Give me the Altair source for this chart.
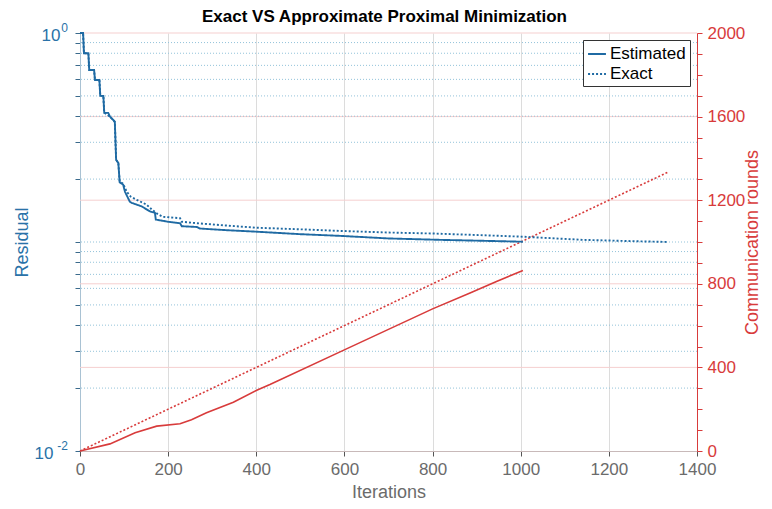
import altair as alt
import pandas as pd

# ---------------- data ----------------
# Residual, "Estimated" (solid blue)
est_iter = [0, 7, 9, 19, 21, 32, 34, 44, 46, 53,
            55, 64, 68, 79, 82, 87, 90, 98, 102, 113,
            117, 140, 159, 170, 172, 200, 227, 231, 265, 272,
            330, 401, 500, 590, 700, 817, 900, 1005]
est_res = [1.0, 1.0, 0.80, 0.80, 0.665, 0.665, 0.596, 0.596, 0.50, 0.50,
           0.415, 0.415, 0.398, 0.377, 0.247, 0.239, 0.193, 0.188, 0.174, 0.156,
           0.154, 0.148, 0.140, 0.138, 0.128, 0.125, 0.123, 0.119, 0.118, 0.116,
           0.114, 0.112, 0.109, 0.107, 0.104, 0.1024, 0.1015, 0.1003]

# Residual, "Exact" (dotted blue)
ex_iter = [0, 7, 9, 19, 21, 32, 34, 44, 46, 53,
           55, 60, 72, 79, 82, 87, 90, 98, 106, 115,
           129, 151, 163, 174, 188, 227, 231, 265, 330, 401,
           500, 590, 700, 801, 900, 1005, 1141, 1250, 1335]
ex_res = [1.0, 1.0, 0.80, 0.80, 0.665, 0.665, 0.596, 0.596, 0.50, 0.50,
          0.415, 0.41, 0.39, 0.375, 0.247, 0.239, 0.195, 0.19, 0.174, 0.165,
          0.159, 0.151, 0.143, 0.137, 0.132, 0.130, 0.125, 0.123, 0.120, 0.117,
          0.115, 0.113, 0.111, 0.1098, 0.108, 0.106, 0.1024, 0.101, 0.100]

# Communication rounds, estimated (solid red)
ce_iter = [0, 68, 125, 174, 227, 253, 287, 348, 401, 431, 601, 800, 885, 945, 1005]
ce_val = [0, 34, 87, 119, 130, 150, 183, 233, 291, 318, 485, 680, 756, 811, 864]

# Communication rounds, exact (dotted red)
cx_iter = [0, 1335]
cx_val = [0, 1335]

series_names = ["Estimated", "Exact"]
title_text = ["Exact VS Approximate Proximal Minimization"]

# axis ticks / labels
x_ticks = [0, 200, 400, 600, 800, 1000, 1200, 1400]
log_ticks = [0.01, 0.02, 0.03, 0.04, 0.05, 0.06, 0.07, 0.08, 0.09,
             0.1, 0.2, 0.3, 0.4, 0.5, 0.6, 0.7, 0.8, 0.9, 1.0]
log_minor_grid = [0.02, 0.03, 0.04, 0.05, 0.06, 0.07, 0.08, 0.09,
                  0.1, 0.2, 0.3, 0.4, 0.5, 0.6, 0.7, 0.8, 0.9]
ylab_vals = [1.0, 0.01]
ylab_base = ["10", "10"]
ylab_exp = ["0", "-2"]
right_ticks = [0, 100, 200, 300, 400, 500, 600, 700, 800, 900, 1000,
               1100, 1200, 1300, 1400, 1500, 1600, 1700, 1800, 1900, 2000]
right_grid = [400, 800, 1200, 1600, 2000]

# ---------------- styling ----------------
FONT = "Liberation Sans"
BLUE = "#1f6aa3"
BLUE_TXT = "#2a72a8"
RED = "#d83b3b"
GRAY = "#6b6b6b"
W, H = 617, 418

df_res = pd.concat([
    pd.DataFrame({"it": est_iter, "res": est_res, "method": series_names[0]}),
    pd.DataFrame({"it": ex_iter, "res": ex_res, "method": series_names[1]}),
])
df_ce = pd.DataFrame({"it": ce_iter, "comm": ce_val})
df_cx = pd.DataFrame({"it": cx_iter, "comm": cx_val})

xscale = alt.Scale(domain=[0, 1400], nice=False, zero=False)
ylog = alt.Scale(type="log", domain=[0.01, 1], nice=False)
ylin = alt.Scale(domain=[0, 2000], nice=False, zero=True)

x_axis = alt.Axis(values=x_ticks, format="d", title="Iterations", grid=True,
                  gridColor="#dcdcdc", gridWidth=1, domainColor="#c8b9b9",
                  tickColor="#555555", tickSize=5, labelColor=GRAY, labelFontSize=17,
                  labelFont=FONT, labelFlush=False, labelPadding=5, titleColor=GRAY,
                  titleFontSize=18, titleFont=FONT, titleFontWeight="normal",
                  titlePadding=6)
x_enc = alt.X("it:Q", scale=xscale, axis=x_axis)

left_axis = alt.Axis(orient="left", values=log_ticks, labels=False, tickSize=5,
                     tickColor="#3a6a8c", domainColor="#a9c2d3", grid=False,
                     title="Residual", titleColor=BLUE_TXT, titleFontSize=18, titleFont=FONT,
                     titleFontWeight="normal", titlePadding=43)

right_axis = alt.Axis(orient="right", values=right_ticks,
                      labelExpr="datum.value % 400 === 0 ? format(datum.value, 'd') : ''",
                      tickSize=5, tickColor=RED, domainColor=RED, labelColor=RED,
                      labelFontSize=17, labelFont=FONT, labelPadding=5, grid=False,
                      title="Communication rounds", titleColor=RED, titleFontSize=18,
                      titleFont=FONT, titleFontWeight="normal", titleAngle=270,
                      titlePadding=17)

pink_rules = alt.Chart(pd.DataFrame({"g": right_grid})).mark_rule(
    color="#f5cfcf", strokeWidth=1).encode(y=alt.Y("g:Q", scale=ylin, axis=None))

blue_rules = alt.Chart(pd.DataFrame({"g": log_minor_grid})).mark_rule(
    color="#93c3da", strokeWidth=1, strokeDash=[1, 2]).encode(
    y=alt.Y("g:Q", scale=ylog, axis=None))

red_exact = alt.Chart(df_cx).mark_line(color=RED, strokeWidth=1.6, strokeDash=[2, 2]).encode(
    x=x_enc, y=alt.Y("comm:Q", scale=ylin, axis=None))

red_est = alt.Chart(df_ce).mark_line(color=RED, strokeWidth=1.6).encode(
    x=x_enc, y=alt.Y("comm:Q", scale=ylin, axis=right_axis))

blue_lines = alt.Chart(df_res).mark_line(color=BLUE, strokeWidth=1.9).encode(
    x=x_enc,
    y=alt.Y("res:Q", scale=ylog, axis=left_axis),
    strokeDash=alt.StrokeDash(
        "method:N",
        scale=alt.Scale(domain=series_names, range=[[1, 0], [2, 2]]),
        legend=alt.Legend(title=None, orient="top-right", offset=7, fillColor="white",
                          strokeColor="#333333", padding=4, labelFontSize=17,
                          labelFont=FONT, labelColor="black", symbolType="stroke",
                          symbolStrokeColor=BLUE, symbolStrokeWidth=1.9, symbolSize=320,
                          rowPadding=2, labelOffset=3, cornerRadius=0),
    ),
)


def ylabel(i, text_list, xpos, size, dy):
    d = pd.DataFrame({"v": [ylab_vals[i]], "s": [text_list[i]]})
    return alt.Chart(d).mark_text(align="right", baseline="middle", font=FONT,
                                  fontSize=size, color=BLUE_TXT, dy=dy).encode(
        x=alt.value(xpos), y=alt.Y("v:Q", scale=ylog, axis=None), text="s:N")


labels = [
    ylabel(0, ylab_base, -19.5, 17, 3),
    ylabel(0, ylab_exp, -12, 12, -5),
    ylabel(1, ylab_base, -26.5, 17, 3),
    ylabel(1, ylab_exp, -12, 12, -5),
]

title_mark = alt.Chart(pd.DataFrame({"t": title_text})).mark_text(
    align="center", baseline="middle", font=FONT, fontSize=17, fontWeight="bold",
    color="black").encode(x=alt.value(W / 2 - 4), y=alt.value(-16), text="t:N")

chart = alt.layer(
    pink_rules, blue_rules, red_exact, red_est, blue_lines, *labels, title_mark
).resolve_scale(y="independent").properties(
    width=W, height=H,
    padding={"left": 72, "top": 25, "right": 67, "bottom": 50},
    autosize="none",
).configure_view(stroke=None)

chart.save("out.html", embed_options={"renderer": "svg", "actions": False})
